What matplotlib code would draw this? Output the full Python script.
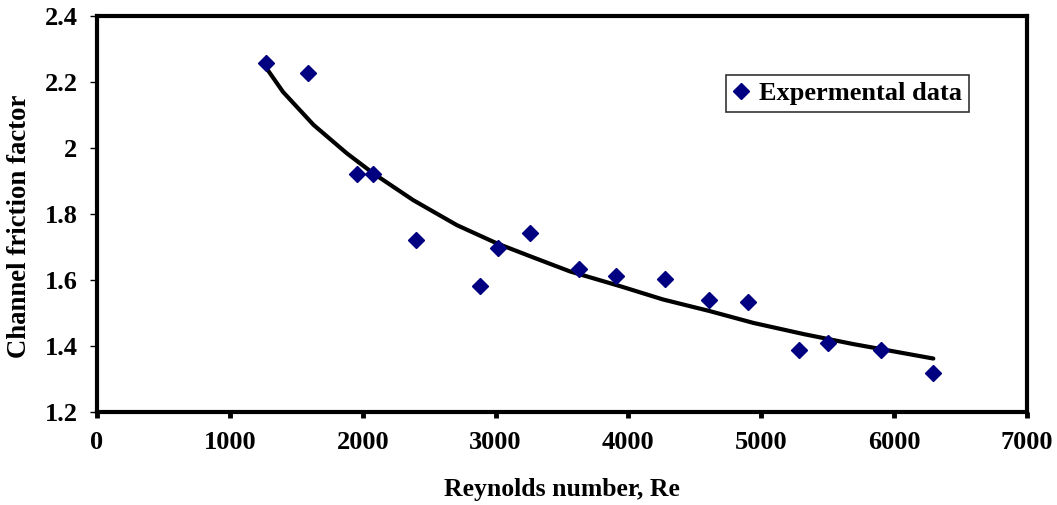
import matplotlib
matplotlib.use("Agg")
import matplotlib.pyplot as plt

# Experimental data
re_data = [1270, 1590, 1960, 2075, 2400, 2885, 3015, 3260, 3625, 3905,
           4275, 4610, 4900, 5285, 5500, 5900, 6290]
f_data = [2.258, 2.228, 1.920, 1.920, 1.720, 1.583, 1.696, 1.742, 1.633, 1.611,
          1.604, 1.540, 1.532, 1.389, 1.410, 1.389, 1.317]

# Fitted curve
re_fit = [1270, 1400, 1630, 1880, 2080, 2380, 2710, 3010, 3260, 3560,
          3940, 4260, 4610, 4940, 5320, 5690, 6295]
f_fit = [2.245, 2.170, 2.070, 1.984, 1.923, 1.842, 1.766, 1.711, 1.672, 1.626,
         1.581, 1.541, 1.506, 1.470, 1.436, 1.406, 1.362]

x_ticks = [0, 1000, 2000, 3000, 4000, 5000, 6000, 7000]
y_ticks = [1.2, 1.4, 1.6, 1.8, 2.0, 2.2, 2.4]
y_tick_labels = ["1.2", "1.4", "1.6", "1.8", "2", "2.2", "2.4"]

plt.rcParams['font.family'] = ['Liberation Serif', 'DejaVu Serif']
plt.rcParams['font.weight'] = 'bold'
plt.rcParams['mathtext.fontset'] = 'custom'
plt.rcParams['mathtext.rm'] = 'Liberation Serif:bold'
plt.rcParams['mathtext.bf'] = 'Liberation Serif:bold'

fig = plt.figure(figsize=(10.57, 5.05), dpi=100)
ax = fig.add_axes([97 / 1057, 1 - 412 / 505, 930 / 1057, 396 / 505])

ax.plot(re_fit, f_fit, color='black', lw=3, solid_capstyle='round', zorder=2)
ax.plot(re_data, f_data, linestyle='none', marker='D', markersize=8,
        color='#000080', markeredgecolor='#000080', label='Expermental data', zorder=3)

ax.set_xlim(0, 7000)
ax.set_ylim(1.2, 2.4)
ax.set_xticks(x_ticks)
ax.set_yticks(y_ticks)
ax.set_yticklabels(y_tick_labels)
ax.tick_params(axis='x', direction='out', length=4, width=3.5, labelsize=19, pad=10)
ax.tick_params(axis='y', direction='out', length=5, width=1, labelsize=19, pad=9)
for lab in ax.get_xticklabels() + ax.get_yticklabels():
    lab.set_fontweight('bold')
for s in ax.spines.values():
    s.set_linewidth(3)
    s.set_color('black')

ax.set_xlabel('Reynolds number, Re', fontsize=18.5, fontweight='bold', labelpad=17)
ax.set_ylabel('Channel friction factor', fontsize=19.3, fontweight='bold', labelpad=9)
ax.yaxis.label.set_y(0.47)

ax.text(393, 348, r'f =  21.4  Re$^{\mathbf{-0.3}}$', transform=ax.transData,
        fontsize=15, fontweight='bold', va='center', ha='left')

leg = ax.legend(loc='upper left', bbox_to_anchor=(726 / 1057, 1 - 75 / 505),
                bbox_transform=fig.transFigure, fontsize=19, frameon=True,
                fancybox=False, handlelength=0.6, handletextpad=0.4,
                borderpad=0.25, borderaxespad=0)
leg.get_frame().set_edgecolor('black')
leg.get_frame().set_linewidth(1.2)

fig.savefig('out.png', dpi=100)
